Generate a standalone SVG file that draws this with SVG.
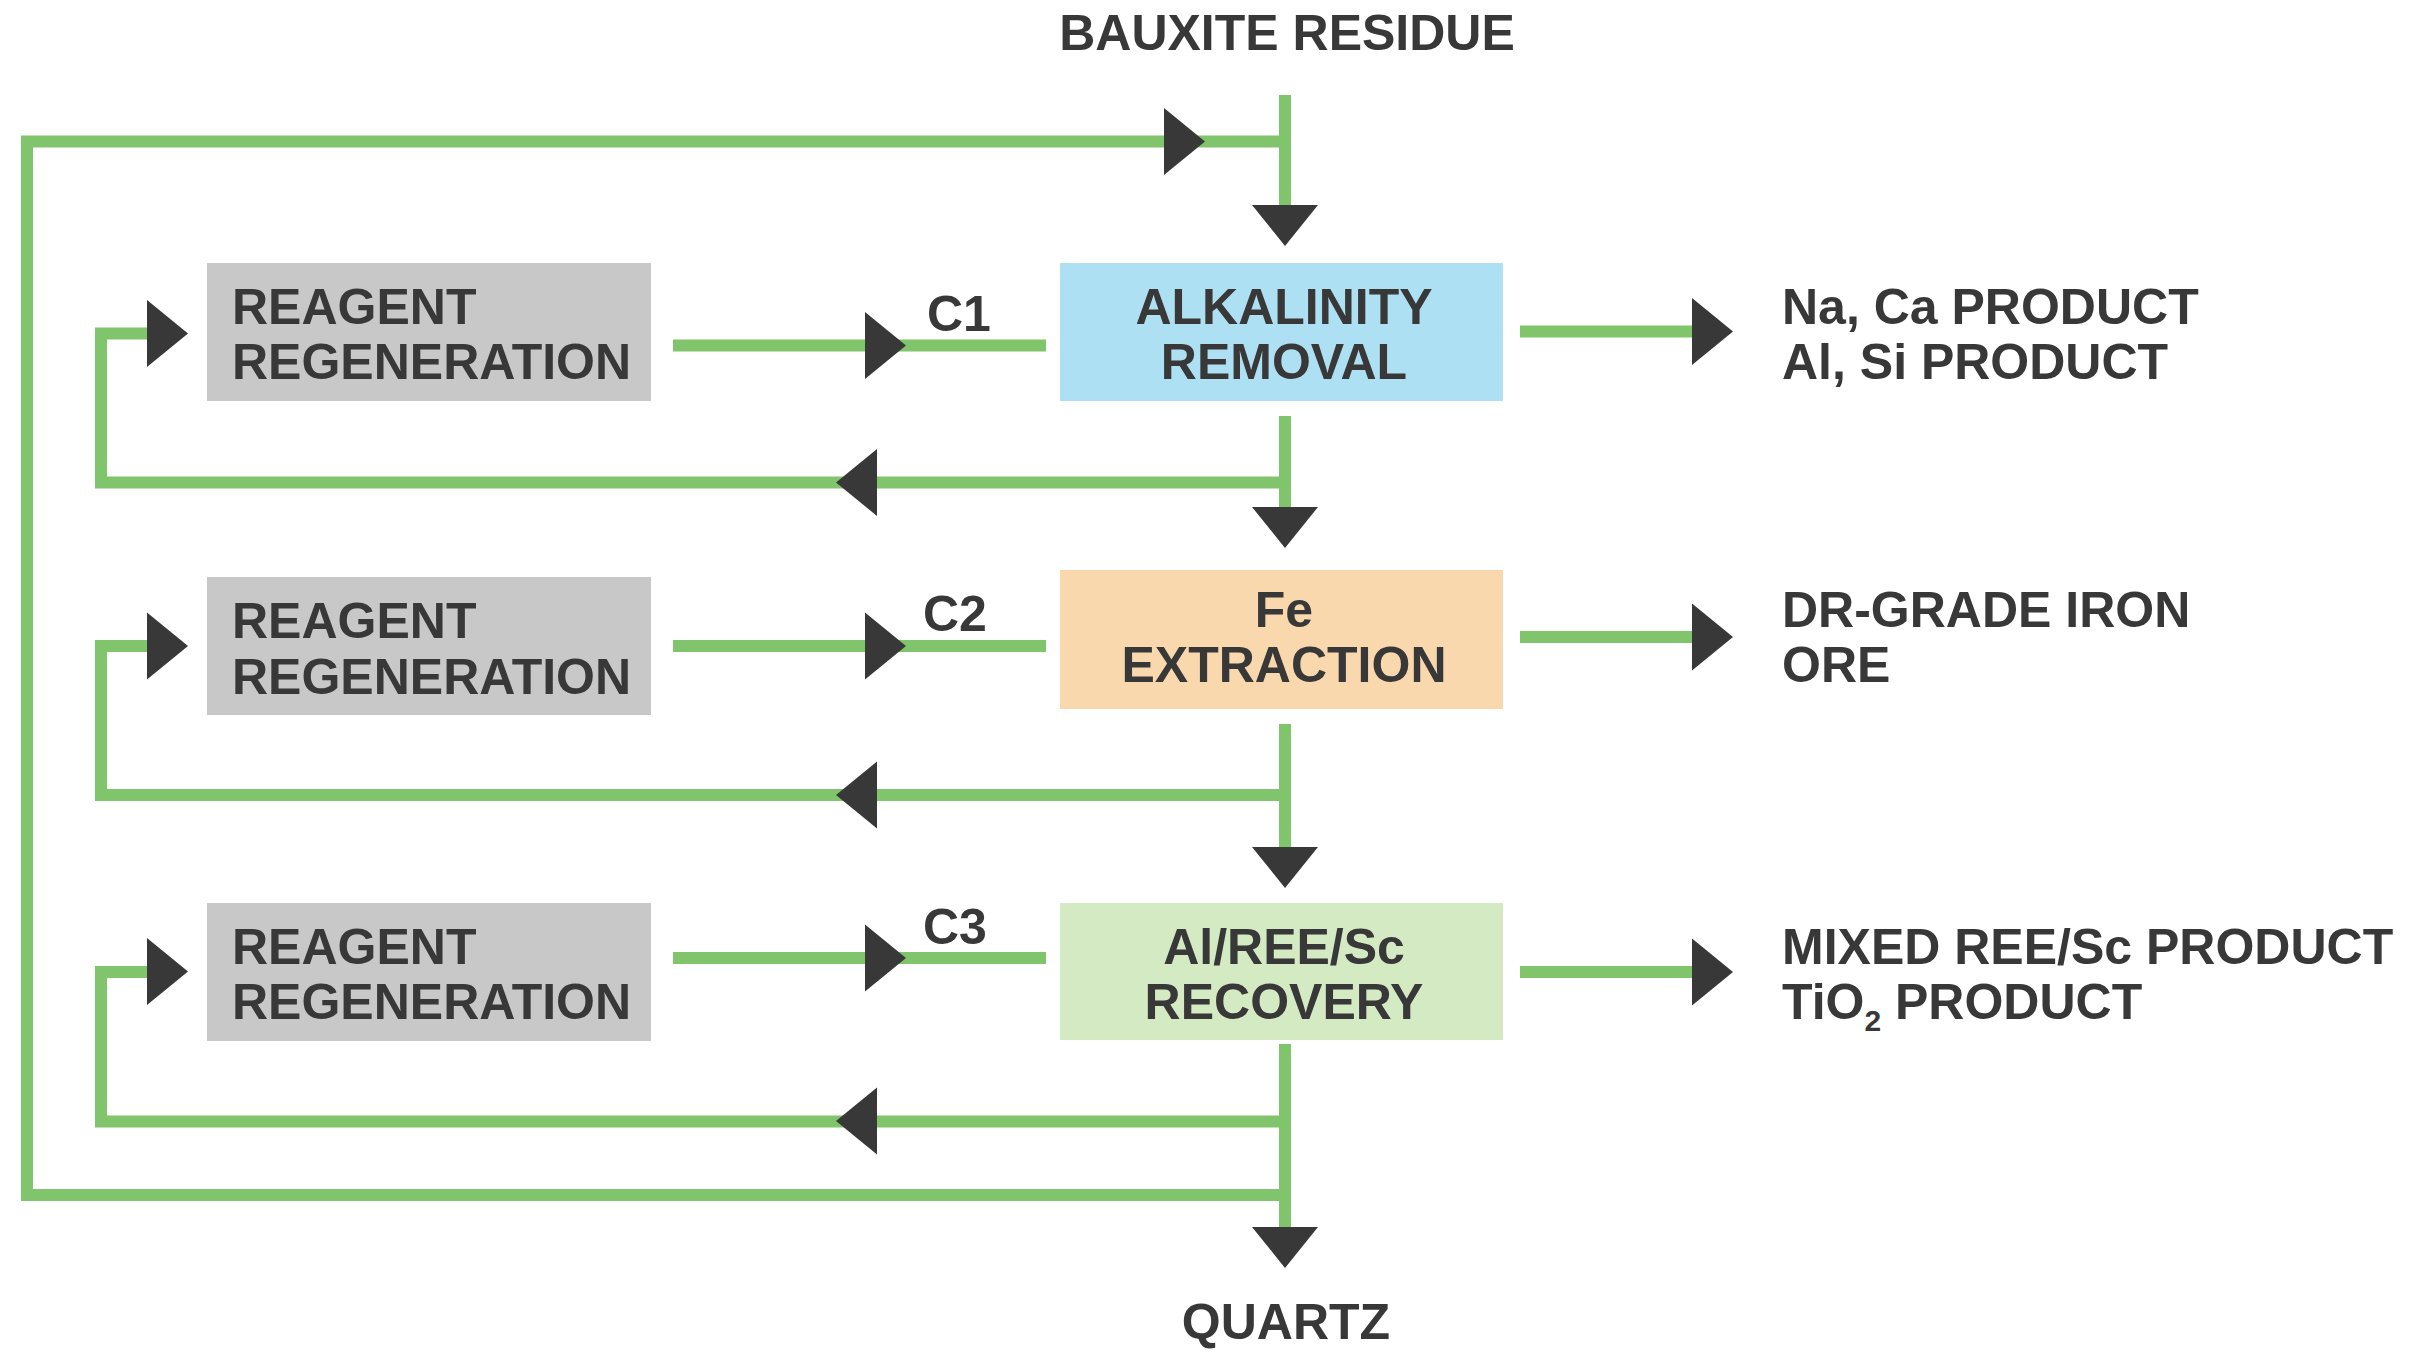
<svg xmlns="http://www.w3.org/2000/svg" xmlns:xlink="http://www.w3.org/1999/xlink" width="2423" height="1364" viewBox="0 0 2423 1364">
<style>
.t{font-family:"Liberation Sans",Arial,sans-serif;font-weight:bold;font-size:50px;fill:#383838}
.m{text-anchor:middle}
.ln{fill:none;stroke:#80C46B;stroke-width:12;stroke-linejoin:miter;stroke-linecap:butt}
.ar{fill:#383838}
.rg{fill:#C8C8C8}
</style>
<defs>
<path id="arR" class="ar" d="M-41,-33.5 L0,0 L-41,33.5 Z"/>
<path id="arL" class="ar" d="M41,-33.5 L0,0 L41,33.5 Z"/>
<path id="arD" class="ar" d="M-33,-41 L33,-41 L0,0 Z"/>
</defs>
<rect width="2423" height="1364" fill="#FFFFFF"/>

<g id="connectors">
<line class="ln" x1="1285" y1="95" x2="1285" y2="230"/>
<line class="ln" x1="1285" y1="416" x2="1285" y2="530"/>
<line class="ln" x1="1285" y1="724" x2="1285" y2="870"/>
<line class="ln" x1="1285" y1="1044" x2="1285" y2="1250"/>
<polyline class="ln" points="1285,141.6 27,141.6 27,1195 1285,1195"/>
<polyline class="ln" points="1285,482.5 101,482.5 101,333.5 160,333.5"/>
<polyline class="ln" points="1285,795 101,795 101,646 160,646"/>
<polyline class="ln" points="1285,1121.5 101,1121.5 101,972 160,972"/>
<line class="ln" x1="673" y1="345.5" x2="1046" y2="345.5"/>
<line class="ln" x1="673" y1="646" x2="1046" y2="646"/>
<line class="ln" x1="673" y1="958" x2="1046" y2="958"/>
<line class="ln" x1="1520" y1="331.6" x2="1700" y2="331.6"/>
<line class="ln" x1="1520" y1="637" x2="1700" y2="637"/>
<line class="ln" x1="1520" y1="972" x2="1700" y2="972"/>
<use xlink:href="#arR" x="1205" y="141.6"/>
<use xlink:href="#arR" x="188" y="333.5"/>
<use xlink:href="#arR" x="906" y="345.5"/>
<use xlink:href="#arR" x="1733" y="331.6"/>
<use xlink:href="#arR" x="188" y="646"/>
<use xlink:href="#arR" x="906" y="646"/>
<use xlink:href="#arR" x="1733" y="637"/>
<use xlink:href="#arR" x="188" y="971.5"/>
<use xlink:href="#arR" x="906" y="958"/>
<use xlink:href="#arR" x="1733" y="972"/>
<use xlink:href="#arL" x="836" y="482.5"/>
<use xlink:href="#arL" x="836" y="795"/>
<use xlink:href="#arL" x="836" y="1121"/>
<use xlink:href="#arD" x="1285" y="246"/>
<use xlink:href="#arD" x="1285" y="548"/>
<use xlink:href="#arD" x="1285" y="888"/>
<use xlink:href="#arD" x="1285" y="1268"/>
<text class="t" x="927" y="331">C1</text>
<text class="t" x="923" y="631">C2</text>
<text class="t" x="923" y="944">C3</text>
</g>

<g id="bauxite-residue"><text class="t m" x="1287" y="50">BAUXITE RESIDUE</text></g>
<g id="quartz"><text class="t m" x="1286" y="1339">QUARTZ</text></g>

<g id="reagent-1">
<rect class="rg" x="207" y="263" width="444" height="138"/>
<text class="t" x="232" y="324">REAGENT</text>
<text class="t" x="232" y="379">REGENERATION</text>
</g>
<g id="reagent-2">
<rect class="rg" x="207" y="577" width="444" height="138"/>
<text class="t" x="232" y="638">REAGENT</text>
<text class="t" x="232" y="694">REGENERATION</text>
</g>
<g id="reagent-3">
<rect class="rg" x="207" y="903" width="444" height="138"/>
<text class="t" x="232" y="964">REAGENT</text>
<text class="t" x="232" y="1019">REGENERATION</text>
</g>

<g id="alkalinity-removal">
<rect x="1060" y="263" width="443" height="138" fill="#AEE0F3"/>
<text class="t m" x="1284" y="324">ALKALINITY</text>
<text class="t m" x="1284" y="379">REMOVAL</text>
</g>
<g id="fe-extraction">
<rect x="1060" y="570" width="443" height="139" fill="#FAD8AD"/>
<text class="t m" x="1284" y="627">Fe</text>
<text class="t m" x="1284" y="682">EXTRACTION</text>
</g>
<g id="al-ree-sc-recovery">
<rect x="1060" y="903" width="443" height="137" fill="#D4EAC3"/>
<text class="t m" x="1284" y="964">Al/REE/Sc</text>
<text class="t m" x="1284" y="1019">RECOVERY</text>
</g>

<g id="product-1">
<text class="t" x="1782" y="324">Na, Ca PRODUCT</text>
<text class="t" x="1782" y="379">Al, Si PRODUCT</text>
</g>
<g id="product-2">
<text class="t" x="1782" y="627">DR-GRADE IRON</text>
<text class="t" x="1782" y="682">ORE</text>
</g>
<g id="product-3">
<text class="t" x="1782" y="964">MIXED REE/Sc PRODUCT</text>
<text class="t" x="1782" y="1019">TiO<tspan font-size="30" dy="12">2</tspan><tspan dy="-12"> PRODUCT</tspan></text>
</g>
</svg>
